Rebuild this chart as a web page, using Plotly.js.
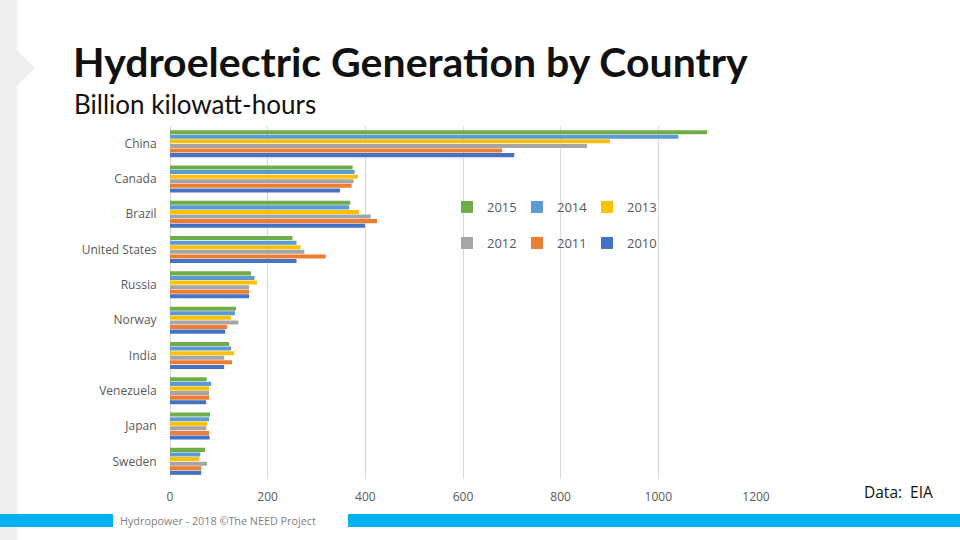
<!DOCTYPE html>
<html>
<head>
<meta charset="utf-8">
<script src="https://cdn.plot.ly/plotly-3.0.1.min.js"></script>
<style>html,body{margin:0;padding:0;background:#fff;}#chart{width:960px;height:540px;}</style>
</head>
<body>
<div id="chart"></div>
<script>
const countries = ["China","Canada","Brazil","United States","Russia","Norway","India","Venezuela","Japan","Sweden"];
const years = ["2015","2014","2013","2012","2011","2010"];
const v2015 = [1100, 374, 369, 251, 166, 135, 121, 75, 82, 72];
const v2014 = [1041, 378, 367, 259, 173, 133, 125, 84, 80, 62];
const v2013 = [901, 385, 387, 267, 178, 125, 131, 80, 76, 60];
const v2012 = [854, 376, 411, 275, 162, 140, 111, 80, 74, 76];
const v2011 = [680, 372, 424, 319, 162, 117, 127, 80, 80, 64];
const v2010 = [705, 348, 399, 259, 162, 113, 111, 74, 81, 64];
const xTicks = [0, 200, 400, 600, 800, 1000, 1200];
const colors = ["#70ad47","#5b9bd5","#ffc000","#a5a5a5","#ed7d31","#4472c4"];

const series = [v2015, v2014, v2013, v2012, v2011, v2010];
const L = 170, R = 756, T = 126, B = 479;
const px = x => (x - L) / (R - L);
const py = y => (B - y) / (B - T);

const traces = series.map((vals, i) => ({
  type: 'bar',
  orientation: 'h',
  name: years[i],
  y: countries,
  x: vals,
  marker: {color: colors[i]},
  legend: i < 3 ? 'legend' : 'legend2',
  hoverinfo: 'x+name'
}));

const legendCommon = {
  orientation: 'h',
  entrywidth: 25,
  entrywidthmode: 'pixels',
  bgcolor: 'rgba(0,0,0,0)',
  font: {family: 'Open Sans, sans-serif', size: 13, color: '#595959'},
  xanchor: 'left',
  yanchor: 'middle',
  itemwidth: 30,
  tracegroupgap: 0
};

const layout = {
  width: 960,
  height: 540,
  paper_bgcolor: '#ffffff',
  plot_bgcolor: '#ffffff',
  margin: {l: L, r: 960 - R, t: T, b: 540 - B},
  barmode: 'group',
  bargap: 0.22,
  bargroupgap: 0.12,
  showlegend: true,
  title: {
    text: 'Hydroelectric Generation by Country',
    font: {family: 'Lato, sans-serif', size: 41, color: '#111111', weight: 'bold'},
    xref: 'container', yref: 'container',
    x: 73 / 960, xanchor: 'left',
    y: 1 - 63 / 540, yanchor: 'middle'
  },
  xaxis: {
    range: [0, 1200],
    tickvals: xTicks,
    ticktext: xTicks.map(String),
    showgrid: true,
    gridcolor: '#d9d9d9',
    gridwidth: 1,
    zeroline: true,
    zerolinecolor: '#d9d9d9',
    zerolinewidth: 1,
    showline: false,
    ticks: 'outside',
    ticklen: 7,
    tickcolor: 'rgba(0,0,0,0)',
    tickfont: {family: 'Open Sans, sans-serif', size: 12, color: '#595959'},
    fixedrange: true
  },
  yaxis: {
    autorange: 'reversed',
    type: 'category',
    showgrid: false,
    zeroline: false,
    showline: false,
    ticks: 'outside',
    ticklen: 10,
    tickcolor: 'rgba(0,0,0,0)',
    tickfont: {family: 'Open Sans, sans-serif', size: 12, color: '#595959'},
    fixedrange: true
  },
  legend: Object.assign({}, legendCommon, {x: px(447), y: py(207)}),
  legend2: Object.assign({}, legendCommon, {x: px(447), y: py(243)}),
  annotations: [
    {text: 'Billion kilowatt-hours', xref: 'paper', yref: 'paper', x: px(72), y: py(104),
     xanchor: 'left', yanchor: 'middle', showarrow: false,
     font: {family: 'Lato, sans-serif', size: 26, color: '#111111'}},
    {text: 'Data:  EIA', xref: 'paper', yref: 'paper', x: px(862), y: py(492),
     xanchor: 'left', yanchor: 'middle', showarrow: false,
     font: {family: 'Open Sans, sans-serif', size: 15.5, color: '#111111'}},
    {text: 'Hydropower - 2018 ©The NEED Project', xref: 'paper', yref: 'paper', x: px(118), y: py(520),
     xanchor: 'left', yanchor: 'middle', showarrow: false,
     font: {family: 'Open Sans, sans-serif', size: 10.8, color: '#7f7f7f'}}
  ],
  shapes: [
    {type: 'rect', xref: 'paper', yref: 'paper', x0: px(0), x1: px(17), y0: py(0), y1: py(540),
     fillcolor: '#efefef', line: {width: 0}, layer: 'below'},
    {type: 'path', xref: 'paper', yref: 'paper',
     path: 'M ' + px(17) + ' ' + py(50) + ' L ' + px(35) + ' ' + py(68) + ' L ' + px(17) + ' ' + py(86) + ' Z',
     fillcolor: '#efefef', line: {width: 0}, layer: 'below'},
    {type: 'rect', xref: 'paper', yref: 'paper', x0: px(0), x1: px(113), y0: py(514), y1: py(527),
     fillcolor: '#00b0f0', line: {width: 0}},
    {type: 'rect', xref: 'paper', yref: 'paper', x0: px(348), x1: px(960), y0: py(514), y1: py(527),
     fillcolor: '#00b0f0', line: {width: 0}}
  ]
};

Plotly.newPlot('chart', traces, layout, {displayModeBar: false, staticPlot: true});
</script>
</body>
</html>
